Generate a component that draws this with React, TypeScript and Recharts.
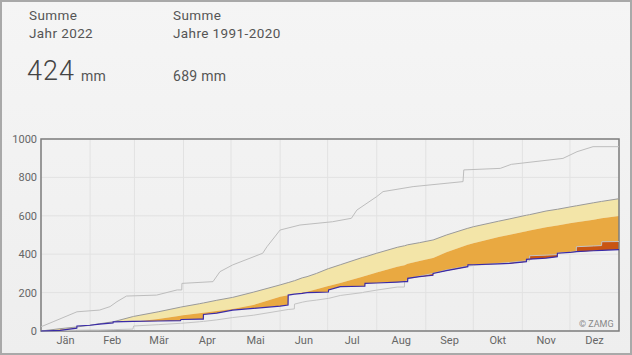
import React from 'react';
import { ComposedChart, Area, Line, XAxis, YAxis, CartesianGrid, ReferenceArea } from 'recharts';

// day of year (fractional values mark vertical steps)
const days = [
  0, 12, 22.6, 22.7, 31, 37, 45.5, 45.6, 58, 58.5, 74, 88, 88.5, 100, 102.5, 102.6, 111, 121, 134, 151,
  156, 156.1, 160, 160.1, 165, 168, 174, 181.5, 181.6, 189, 203, 204.5, 204.6, 212, 225, 229.5, 229.6,
  231.5, 231.6, 239, 247.5, 247.6, 256, 269.5, 269.6, 273, 289, 296, 306.5, 306.6, 308.5, 308.6, 319,
  326, 326.1, 334, 338, 338.1, 349, 354, 354.1, 365,
];
// mean 1991-2020 (top of the coloured area)
const meanSum = [
  0, 12, 21, 21, 30, 38, 48, 48, 75, 76, 100, 124, 125, 142, 146, 146, 160, 175, 202, 240,
  252, 252, 262, 262, 277, 283, 300, 325, 325, 345, 383, 386, 386, 405, 436, 444, 444,
  449, 449, 460, 474, 474, 500, 535, 535, 543, 572, 584, 603, 603, 606, 606, 625,
  634, 634, 646, 652, 652, 668, 675, 675, 689,
];
// lower edge of the light band
const bandSum = [
  0, 8, 15, 15, 22, 28, 36, 36, 48, 48, 62, 80, 81, 93, 95, 95, 104, 114, 135, 178,
  186, 186, 192, 192, 200, 205, 218, 235, 235, 250, 282, 286, 286, 305, 335, 343, 343,
  350, 350, 364, 380, 380, 410, 449, 449, 457, 490, 501, 520, 520, 523, 523, 540,
  550, 550, 561, 566, 566, 580, 587, 587, 599,
];
// Jahr 2022
const sum2022 = [
  0, 3, 15, 26, 30, 36, 42, 48, 50, 50, 52, 54, 60, 62, 62, 86, 93, 109, 118, 130,
  135, 187, 192, 192, 196, 200, 201, 203, 214, 231, 233, 233, 248, 250, 255, 257, 257,
  257, 274, 283, 290, 300, 314, 335, 344, 345, 350, 352, 361, 373, 374, 374, 380,
  387, 405, 409, 413, 413, 418, 420, 420, 424,
];
// lowest year 1991-2020
const minSum = [
  0, 2, 4, 4, 5, 5, 7, 7, 10, 26, 33, 40, 40, 48, 50, 50, 58, 70, 82, 105,
  112, 112, 115, 140, 150, 155, 161, 170, 170, 185, 200, 203, 203, 213, 229, 229, 258,
  262, 272, 285, 300, 300, 318, 338, 338, 341, 352, 357, 365, 365, 365, 392, 395,
  398, 406, 410, 412, 439, 443, 445, 465, 466,
];
// highest year 1991-2020
const maxDays = [0, 7.6, 22.7, 37, 43.6, 48, 54, 73, 86, 88.9, 89, 108.6, 113, 121, 140, 142.7, 151, 163.5, 184, 196, 199.5, 212, 216, 235, 266.5, 267, 290, 297, 329.6, 338.5, 348.6, 365];
const maxSum = [22, 48, 100, 109, 127, 153, 182, 187, 214, 214, 248, 257, 309, 344, 405, 439, 526, 552, 569, 587, 630, 700, 726, 752, 778, 839, 847, 868, 899, 934, 960, 960];

const monthStarts = [0, 31, 59, 90, 120, 151, 181, 212, 243, 273, 304, 334, 365];
const monthMids = [15.5, 45, 74.5, 105, 135.5, 166, 196.5, 227.5, 258, 288.5, 319, 349.5];
const monthNames = ['Jän', 'Feb', 'Mär', 'Apr', 'Mai', 'Jun', 'Jul', 'Aug', 'Sep', 'Okt', 'Nov', 'Dez'];
const yTicks = [0, 200, 400, 600, 800, 1000];

const rows = days.map((day, i) => {
  const m = meanSum[i];
  const o = bandSum[i];
  const y = sum2022[i];
  const mn = minSum[i];
  return {
    day,
    mean: m,
    y2022: y,
    min: mn,
    pale: [Math.min(Math.max(y, o), m), m],
    orange: [Math.min(y, o), o],
    red: [y, Math.max(y, mn)],
  };
});
const maxRows = maxDays.map((day, i) => ({ day, max: maxSum[i] }));

const font = 'Roboto, "DejaVu Sans", sans-serif';
const txt: React.CSSProperties = { position: 'absolute', fontFamily: font, color: '#555', lineHeight: 1, whiteSpace: 'nowrap' };

export default function App() {
  return (
    <div style={{ position: 'absolute', top: 0, left: 0, width: 632, height: 355, background: 'linear-gradient(#f5f5f5, #eeeeee)', overflow: 'hidden' }}>
      <div style={{ ...txt, left: 29, top: 9, fontSize: 13.5, letterSpacing: 0.4 }}>Summe</div>
      <div style={{ ...txt, left: 29, top: 27, fontSize: 13.5, letterSpacing: 0.4 }}>Jahr 2022</div>
      <div style={{ ...txt, left: 27, top: 58, fontSize: 27, fontWeight: 300, color: '#444', letterSpacing: 1 }}>424</div>
      <div style={{ ...txt, left: 81, top: 69, fontSize: 14, letterSpacing: 0.3 }}>mm</div>
      <div style={{ ...txt, left: 173, top: 9, fontSize: 13.5, letterSpacing: 0.4 }}>Summe</div>
      <div style={{ ...txt, left: 173, top: 27, fontSize: 13.5, letterSpacing: 0.4 }}>Jahre 1991-2020</div>
      <div style={{ ...txt, left: 173, top: 69, fontSize: 14, letterSpacing: 0.3 }}>689 mm</div>

      <ComposedChart width={632} height={355} data={rows} margin={{ top: 139, right: 13, bottom: 0, left: 3 }}>
        <CartesianGrid stroke="#e2e2e2" verticalValues={monthStarts} horizontalValues={yTicks} />
        <XAxis
          type="number"
          dataKey="day"
          domain={[0, 365]}
          ticks={monthMids}
          tickFormatter={(v) => monthNames[monthMids.indexOf(v)]}
          axisLine={false}
          tickLine={false}
          tickSize={0}
          tickMargin={5}
          height={24}
          interval={0}
          tick={{ fill: '#666', fontSize: 11, fontFamily: font }}
        />
        <YAxis
          type="number"
          domain={[0, 1000]}
          ticks={yTicks}
          axisLine={false}
          tickLine={false}
          tickSize={2}
          tickMargin={2}
          width={38}
          tick={{ fill: '#666', fontSize: 11, fontFamily: font }}
        />
        <Line data={maxRows} dataKey="max" stroke="#bdbdbd" strokeWidth={1} dot={false} isAnimationActive={false} />
        <Line dataKey="min" stroke="#c4c4c4" strokeWidth={1} dot={false} isAnimationActive={false} />
        <Area dataKey="pale" type="linear" stroke="none" fill="#f3e5a8" fillOpacity={1} isAnimationActive={false} />
        <Area dataKey="orange" type="linear" stroke="none" fill="#e9a941" fillOpacity={1} isAnimationActive={false} />
        <Area dataKey="red" type="linear" stroke="none" fill="#c95513" fillOpacity={1} isAnimationActive={false} />
        <Line dataKey="mean" stroke="#9a9a9a" strokeWidth={1} dot={false} isAnimationActive={false} />
        <Line dataKey="y2022" stroke="#3a2ba8" strokeWidth={1.2} dot={false} isAnimationActive={false} />
        <ReferenceArea x1={0} x2={365} y1={0} y2={1000} fill="none" stroke="#7d7d7d" strokeWidth={1.5} />
      </ComposedChart>

      <div style={{ ...txt, left: 579, top: 320, fontSize: 9, color: '#888' }}>© ZAMG</div>
      <div style={{ position: 'absolute', inset: 0, border: '2px solid #a9a9a9', pointerEvents: 'none' }} />
    </div>
  );
}
